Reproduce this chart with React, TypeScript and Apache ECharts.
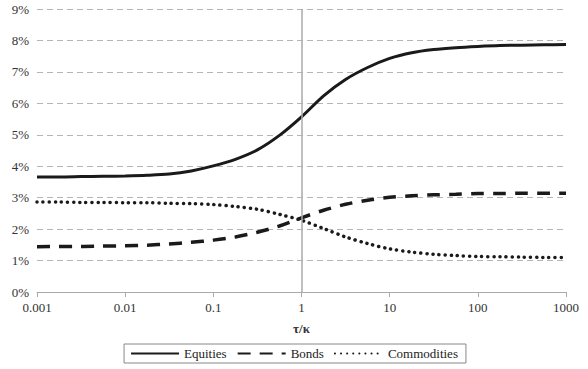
import React, { useEffect, useRef } from "react";
import * as echarts from "echarts";

const xTicks = [0.001, 0.01, 0.1, 1, 10, 100, 1000];
const yTicks = [0, 1, 2, 3, 4, 5, 6, 7, 8, 9];

// sample points at quarter decades: 0.001, 0.00178, 0.00316, ... 1000
const xs = [
  0.001, 0.00178, 0.00316, 0.00562, 0.01, 0.0178, 0.0316, 0.0562, 0.1, 0.178, 0.316, 0.562, 1,
  1.78, 3.16, 5.62, 10, 17.8, 31.6, 56.2, 100, 178, 316, 562, 1000,
];
const equitiesY = [
  3.66, 3.66, 3.67, 3.68, 3.69, 3.71, 3.75, 3.85, 4.01, 4.22, 4.52, 4.98, 5.57,
  6.24, 6.76, 7.14, 7.43, 7.61, 7.71, 7.77, 7.81, 7.84, 7.85, 7.86, 7.87,
];
const bondsY = [
  1.44, 1.45, 1.45, 1.46, 1.47, 1.49, 1.53, 1.58, 1.65, 1.75, 1.9, 2.1, 2.36,
  2.6, 2.79, 2.92, 3.01, 3.06, 3.09, 3.11, 3.13, 3.13, 3.14, 3.14, 3.14,
];
const commoditiesY = [
  2.86, 2.86, 2.85, 2.85, 2.84, 2.84, 2.82, 2.81, 2.78, 2.72, 2.63, 2.47, 2.28,
  2.02, 1.75, 1.54, 1.37, 1.27, 1.2, 1.16, 1.13, 1.12, 1.11, 1.1, 1.1,
];

const zip = (x: number[], y: number[]) => x.map((v, i) => [v, y[i]]);

export default function App() {
  const ref = useRef<HTMLDivElement>(null);
  useEffect(() => {
    document.body.style.margin = "0";
    const chart = echarts.init(ref.current!, undefined, { renderer: "svg" });
    const font = "Liberation Serif";
    chart.setOption({
      animation: false,
      backgroundColor: "#ffffff",
      textStyle: { fontFamily: font },
      grid: { left: 37, right: 22, top: 9, bottom: 77, containLabel: false },
      xAxis: {
        type: "log",
        logBase: 10,
        min: 0.001,
        max: 1000,
        name: "τ/κ",
        nameLocation: "middle",
        nameGap: 30,
        nameTextStyle: { fontFamily: font, fontSize: 13, fontWeight: "bold", color: "#333" },
        axisLine: { show: true, lineStyle: { color: "#aaaaaa", width: 1 } },
        axisTick: { show: true, length: 5, lineStyle: { color: "#aaaaaa" } },
        axisLabel: {
          margin: 9,
          fontFamily: font,
          fontSize: 13,
          color: "#333",
          formatter: (v: number) => {
            const t = xTicks.find((k) => Math.abs(k - v) / k < 1e-6);
            return t !== undefined ? String(t) : "";
          },
        },
        splitLine: { show: false },
        minorTick: { show: false },
      },
      yAxis: {
        type: "value",
        min: 0,
        max: 9,
        interval: 1,
        axisLine: { show: false },
        axisTick: { show: false },
        axisLabel: {
          margin: 8,
          fontFamily: font,
          fontSize: 13,
          color: "#333",
          formatter: (v: number) => (yTicks.includes(Math.round(v)) ? `${Math.round(v)}%` : ""),
        },
        splitLine: {
          show: true,
          lineStyle: { color: "#b5b5b5", width: 1, type: [6, 4] },
        },
      },
      legend: {
        bottom: 6,
        left: "center",
        orient: "horizontal",
        borderColor: "#888888",
        borderWidth: 1,
        borderRadius: 0,
        padding: [3, 8, 3, 6],
        itemGap: 10,
        itemWidth: 48,
        itemHeight: 10,
        itemStyle: { opacity: 0 },
        textStyle: { fontFamily: font, fontSize: 13, color: "#222" },
        data: ["Equities", "Bonds", "Commodities"],
      },
      series: [
        {
          name: "Equities",
          type: "line",
          smooth: 0.3,
          showSymbol: false,
          symbol: "none",
          data: zip(xs, equitiesY),
          lineStyle: { color: "#1a1a1a", width: 3 },
          itemStyle: { color: "#1a1a1a" },
          markLine: {
            silent: true,
            symbol: "none",
            label: { show: false },
            lineStyle: { color: "#aaaaaa", width: 1.5, type: "solid" },
            data: [{ xAxis: 1 }],
          },
        },
        {
          name: "Bonds",
          type: "line",
          smooth: 0.3,
          showSymbol: false,
          symbol: "none",
          data: zip(xs, bondsY),
          lineStyle: { color: "#1a1a1a", width: 3.5, type: [13, 9] },
          itemStyle: { color: "#1a1a1a" },
        },
        {
          name: "Commodities",
          type: "line",
          smooth: 0.3,
          showSymbol: false,
          symbol: "none",
          data: zip(xs, commoditiesY),
          lineStyle: { color: "#1a1a1a", width: 3.5, type: [0.1, 6], cap: "round" },
          itemStyle: { color: "#1a1a1a" },
        },
      ],
    });
    return () => chart.dispose();
  }, []);
  return <div ref={ref} style={{ width: 588, height: 369 }} />;
}
